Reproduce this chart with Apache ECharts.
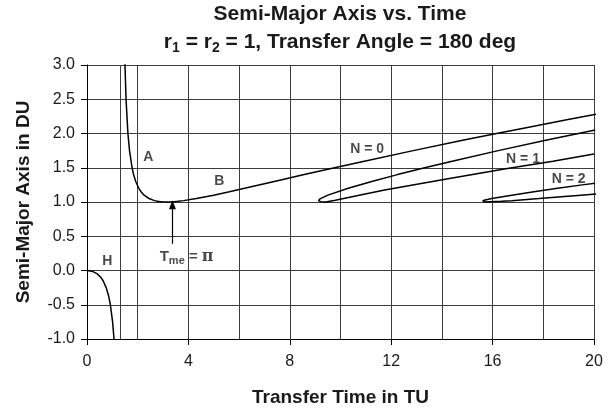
<!DOCTYPE html>
<html><head><meta charset="utf-8">
<script src="https://cdn.jsdelivr.net/npm/echarts@6/dist/echarts.min.js"></script>
<style>html,body{margin:0;padding:0;background:#fff}#c{width:610px;height:412px}</style>
</head><body><div id="c"></div>
<script>
// ---- data (transfer time TU, semi-major axis DU) ----
const xTickValues = [0, 4, 8, 12, 16, 20];
const yTickValues = [-1.0, -0.5, 0.0, 0.5, 1.0, 1.5, 2.0, 2.5, 3.0];

// N = 0 : branch A (short way) then branch B
const curveN0 = [
  [1.485, 3.2], [1.498, 3.0], [1.540, 2.5], [1.614, 2.0], [1.677, 1.75], [1.778, 1.5],
  [1.839, 1.4], [1.922, 1.3], [2.044, 1.2], [2.132, 1.15], [2.254, 1.1], [2.319, 1.08],
  [2.449, 1.05], [2.661, 1.02], [2.786, 1.01], [2.882, 1.005], [2.972, 1.002], [3.142, 1.0],
  [3.330, 1.002], [3.449, 1.005], [3.592, 1.01], [3.811, 1.02], [4.311, 1.05], [4.733, 1.08],
  [4.995, 1.1], [5.617, 1.15], [6.215, 1.2], [7.391, 1.3], [8.569, 1.4], [9.765, 1.5],
  [10.985, 1.6], [12.869, 1.75], [14.818, 1.9], [16.157, 2.0], [17.525, 2.1], [18.924, 2.2],
  [20.35, 2.3]
];
// N = 1 : upper branch back to the nose, then lower branch
const curveN1 = [
  [20.048, 2.05], [19.386, 2.0], [18.093, 1.9], [16.223, 1.75], [14.448, 1.6], [13.321, 1.5],
  [12.247, 1.4], [11.234, 1.3], [10.304, 1.2], [9.503, 1.1], [9.209, 1.05], [9.141, 1.03],
  [9.133, 1.02], [9.163, 1.01], [9.212, 1.005], [9.42, 1.0], [9.8, 1.025], [10.5, 1.08],
  [11.74, 1.176], [14.13, 1.333], [16.52, 1.486], [18.38, 1.595], [20.0, 1.70]
];
// N = 2
const curveN2 = [
  [20.04, 1.275], [19.538, 1.25], [18.563, 1.2], [17.629, 1.15], [16.752, 1.1], [15.969, 1.05],
  [15.709, 1.03], [15.606, 1.02], [15.541, 1.01], [15.537, 1.0075], [15.542, 1.005], [15.708, 1.0],
  [16.348, 1.01], [16.756, 1.02], [17.832, 1.05], [18.838, 1.08], [19.493, 1.1], [20.142, 1.12]
];
// H : hyperbolic branch
const curveH = [
  [0.0, 0.0], [0.063, -0.001], [0.195, -0.01], [0.271, -0.02], [0.409, -0.05], [0.546, -0.1],
  [0.636, -0.15], [0.757, -0.25], [0.855, -0.375], [0.922, -0.5], [1.010, -0.75], [1.066, -1.0],
  [1.098, -1.2]
];
const parabolicTime = 1.3333;
const curveLabels = [
  { name: 'A', value: [2.42, 1.65] },
  { name: 'B', value: [5.22, 1.31] },
  { name: 'H', value: [0.80, 0.13] },
  { name: 'N = 0', value: [11.05, 1.77] },
  { name: 'N = 1', value: [17.2, 1.62] },
  { name: 'N = 2', value: [19.0, 1.34] }
];
const tmeLabelPos = [3.93, 0.20];
const arrowFrom = [3.37, 0.39];
const arrowTo = [3.37, 0.96];

// ---- chart ----
const FONT = 'Liberation Sans, Arial, Helvetica, sans-serif';
const GRID_COLOR = '#3c3c3c';
const chart = echarts.init(document.getElementById('c'), null, { renderer: 'canvas' });

function lineSeries(data, extra) {
  return Object.assign({
    type: 'line', data: data, showSymbol: false, symbol: 'none', smooth: false,
    lineStyle: { color: '#000', width: 1.5 }, itemStyle: { color: '#000' },
    clip: true, silent: true, z: 5
  }, extra || {});
}

chart.setOption({
  animation: false,
  backgroundColor: '#fff',
  title: [
    {
      text: 'Semi-Major Axis vs. Time', left: 340, top: 4, textAlign: 'center', padding: 0,
      textStyle: { fontFamily: FONT, fontSize: 21, fontWeight: 'bold', color: '#1a1a1a' }
    },
    {
      text: 'r{s|1} = r{s|2} = 1, Transfer Angle = 180 deg', left: 340, top: 30, textAlign: 'center', padding: 0,
      textStyle: {
        fontFamily: FONT, fontSize: 21, fontWeight: 'bold', color: '#1a1a1a', lineHeight: 25,
        rich: { s: { fontFamily: FONT, fontSize: 14, fontWeight: 'bold', color: '#1a1a1a', verticalAlign: 'bottom', lineHeight: 15 } }
      }
    }
  ],
  grid: { left: 87, right: 16, top: 65, bottom: 71 },
  xAxis: {
    type: 'value', min: 0, max: 20, interval: 4,
    name: 'Transfer Time in TU', nameLocation: 'middle', nameGap: 49,
    nameTextStyle: { fontFamily: FONT, fontSize: 19, fontWeight: 'bold', color: '#1a1a1a' },
    axisLine: { show: true, onZero: false, lineStyle: { color: '#000', width: 1 } },
    axisTick: { show: true, inside: false, length: 6, lineStyle: { color: '#000' } },
    axisLabel: { fontFamily: FONT, fontSize: 16, color: '#1a1a1a', margin: 15,
      formatter: v => (xTickValues.indexOf(v) >= 0 ? String(v) : '') },
    splitLine: { show: true, lineStyle: { color: GRID_COLOR, width: 1 } },
    minorTick: { show: false, splitNumber: 2 },
    minorSplitLine: { show: true, lineStyle: { color: GRID_COLOR, width: 1 } }
  },
  yAxis: {
    type: 'value', min: -1, max: 3, interval: 0.5,
    name: 'Semi-Major Axis in DU', nameLocation: 'middle', nameGap: 54, nameRotate: 90,
    nameTextStyle: { fontFamily: FONT, fontSize: 19, fontWeight: 'bold', color: '#1a1a1a' },
    axisLine: { show: true, onZero: false, lineStyle: { color: '#000', width: 1 } },
    axisTick: { show: true, inside: false, length: 6, lineStyle: { color: '#000' } },
    axisLabel: { fontFamily: FONT, fontSize: 16, color: '#1a1a1a', margin: 12,
      formatter: v => (yTickValues.some(t => Math.abs(t - v) < 1e-9) ? v.toFixed(1) : '') },
    splitLine: { show: true, lineStyle: { color: GRID_COLOR, width: 1 } }
  },
  series: [
    lineSeries(curveH, {
      markLine: {
        silent: true, symbol: 'none', animation: false, label: { show: false },
        lineStyle: { color: GRID_COLOR, width: 1, type: 'solid' },
        data: [{ xAxis: parabolicTime }]
      }
    }),
    lineSeries(curveN0, {
      markLine: {
        silent: true, symbol: ['none', 'triangle'], symbolSize: [7, 9], animation: false,
        label: { show: false },
        lineStyle: { color: '#000', width: 1.2, type: 'solid' },
        data: [[{ coord: arrowFrom }, { coord: arrowTo }]]
      }
    }),
    lineSeries(curveN1),
    lineSeries(curveN2),
    {
      type: 'scatter', silent: true, symbolSize: 1, z: 6,
      itemStyle: { color: 'rgba(0,0,0,0)' },
      label: {
        show: true, position: 'inside', formatter: '{b}',
        fontFamily: FONT, fontSize: 14, fontWeight: 'bold', color: '#1a1a1a'
      },
      data: curveLabels.concat([{
        name: 'Tme', value: tmeLabelPos,
        label: {
          formatter: 'T{m|me} = {p|π}',
          rich: {
            m: { fontFamily: FONT, fontSize: 11, fontWeight: 'bold', color: '#1a1a1a', verticalAlign: 'bottom', lineHeight: 12 },
            p: { fontFamily: 'DejaVu Serif, serif', fontSize: 16, fontWeight: 'bold', color: '#1a1a1a' }
          },
          fontSize: 15, lineHeight: 20
        }
      }])
    }
  ]
});
</script>
</body></html>
